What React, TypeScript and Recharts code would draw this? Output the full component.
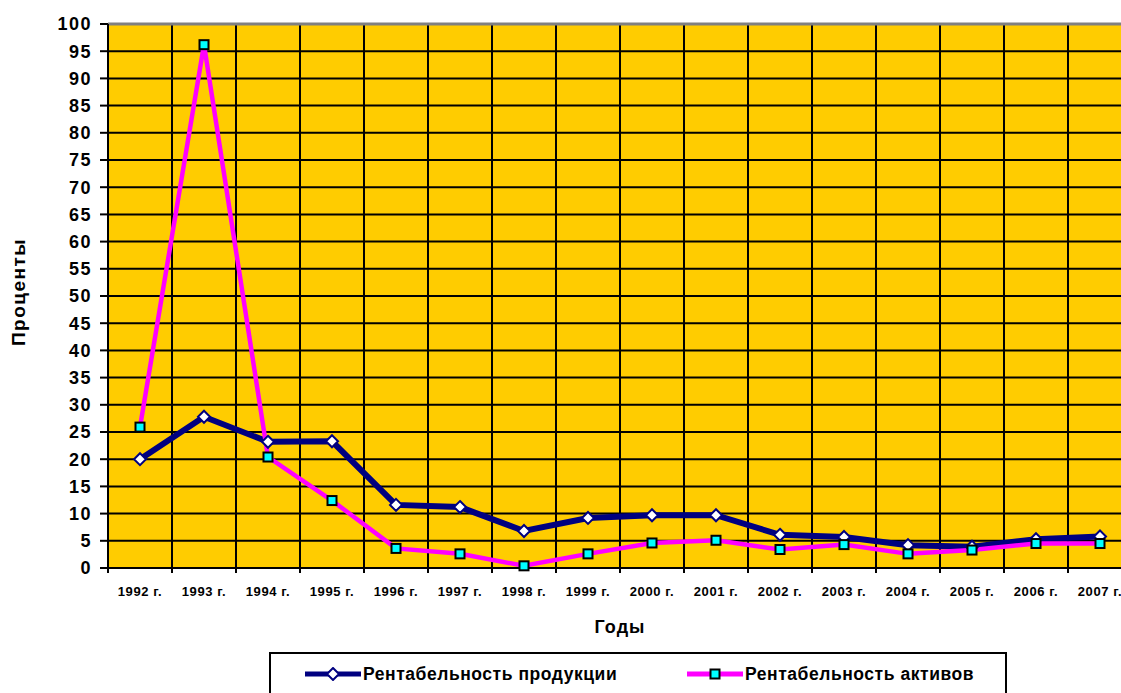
import { LineChart, Line, XAxis, YAxis, CartesianGrid, Legend, ReferenceLine } from "recharts";

const years = [
  "1992 г.", "1993 г.", "1994 г.", "1995 г.", "1996 г.", "1997 г.", "1998 г.", "1999 г.",
  "2000 г.", "2001 г.", "2002 г.", "2003 г.", "2004 г.", "2005 г.", "2006 г.", "2007 г.",
];
const productReturn = [20, 27.8, 23.2, 23.3, 11.6, 11.2, 6.8, 9.2, 9.7, 9.7, 6.1, 5.7, 4.2, 3.9, 5.3, 5.8];
const assetReturn = [25.9, 96.2, 20.4, 12.4, 3.6, 2.6, 0.4, 2.6, 4.6, 5.1, 3.4, 4.3, 2.6, 3.3, 4.5, 4.5];
const yTicks = [0, 5, 10, 15, 20, 25, 30, 35, 40, 45, 50, 55, 60, 65, 70, 75, 80, 85, 90, 95, 100];
// category boundaries, used for the vertical grid and the x tick marks
const bandEdges = Array.from({ length: years.length + 1 }, (_, i) => i);
const seriesOrder = ["product", "assets"];

const data = years.map((year, i) => ({
  year,
  slot: i + 0.5,
  product: productReturn[i],
  assets: assetReturn[i],
}));

const FONT = "Arial, 'Liberation Sans', sans-serif";

const Diamond = (props: any) => {
  const { cx, cy } = props;
  if (cx == null || cy == null) return null;
  const r = 6;
  return (
    <polygon
      points={`${cx},${cy - r} ${cx + r},${cy} ${cx},${cy + r} ${cx - r},${cy}`}
      fill="#ffffff"
      stroke="#000080"
      strokeWidth={2}
    />
  );
};

const Square = (props: any) => {
  const { cx, cy } = props;
  if (cx == null || cy == null) return null;
  return <rect x={cx - 4.5} y={cy - 4.5} width={9} height={9} fill="#00ffff" stroke="#000000" strokeWidth={2} />;
};

const LegendBox = ({ payload }: any) => {
  const items = [...(payload || [])].sort(
    (a: any, b: any) => seriesOrder.indexOf(a.dataKey) - seriesOrder.indexOf(b.dataKey)
  );
  return (
    <div style={{ display: "flex", alignItems: "center", height: "100%", paddingLeft: 34 }}>
      {items.map((entry: any, i: number) => (
        <div key={entry.dataKey} style={{ display: "flex", alignItems: "center", width: i === 0 ? 382 : "auto" }}>
          <svg width={56} height={14}>
            <line x1={0} y1={7} x2={56} y2={7} stroke={entry.color} strokeWidth={5} />
            {entry.dataKey === "product" ? (
              <polygon points="28,1 34,7 28,13 22,7" fill="#fff" stroke="#000080" strokeWidth={2} />
            ) : (
              <rect x={23.5} y={2.5} width={9} height={9} fill="#00ffff" stroke="#000" strokeWidth={2} />
            )}
          </svg>
          <span style={{ fontFamily: FONT, fontWeight: "bold", fontSize: 17.5, letterSpacing: 0.55, marginLeft: 2 }}>
            {entry.value}
          </span>
        </div>
      ))}
    </div>
  );
};

const NoLabel = () => <g />;

export default function App() {
  return (
    <div style={{ position: "absolute", left: 0, top: 0, width: 1121, height: 693, overflow: "hidden", background: "#fff" }}>
      <LineChart
        width={1140}
        height={720}
        data={data}
        margin={{ top: 24, right: 8, left: 0, bottom: 82 }}
      >
        <CartesianGrid xAxisId="a" stroke="#000" strokeWidth={2} fill="#ffcc00" fillOpacity={1} />
        <XAxis
          xAxisId="b"
          dataKey="year"
          scale="band"
          height={69}
          axisLine={false}
          tickLine={false}
          tickMargin={12}
          interval={0}
          tick={{ fill: "#000", fontSize: 13, fontWeight: "bold", fontFamily: FONT, letterSpacing: 0.6 }}
          label={{
            value: "Годы",
            position: "insideBottom",
            offset: 5,
            fill: "#000",
            fontSize: 18,
            fontWeight: "bold",
            fontFamily: FONT,
            letterSpacing: 1,
          }}
        />
        <XAxis
          xAxisId="a"
          dataKey="slot"
          type="number"
          domain={[0, years.length]}
          ticks={bandEdges}
          interval={0}
          allowDataOverflow
          tick={<NoLabel />}
          tickSize={5}
          height={1}
          axisLine={{ stroke: "#000", strokeWidth: 2 }}
          tickLine={{ stroke: "#000", strokeWidth: 2 }}
        />
        <YAxis
          width={108}
          domain={[0, 100]}
          ticks={yTicks}
          interval={0}
          tickSize={8}
          tickMargin={8}
          axisLine={{ stroke: "#000", strokeWidth: 2 }}
          tickLine={{ stroke: "#000", strokeWidth: 2 }}
          tick={{ fill: "#000", fontSize: 18, fontWeight: "bold", fontFamily: FONT, letterSpacing: 1.5 }}
          label={{
            content: ({ viewBox }: any) => (
              <text
                x={18}
                y={viewBox.y + viewBox.height / 2 - 4}
                transform={`rotate(-90 18 ${viewBox.y + viewBox.height / 2 - 4})`}
                textAnchor="middle"
                dominantBaseline="central"
                fontFamily={FONT}
                fontWeight="bold"
                fontSize={19}
                letterSpacing={1.5}
                fill="#000"
              >
                Проценты
              </text>
            ),
          }}
        />
        <ReferenceLine xAxisId="b" y={100} stroke="#808080" strokeWidth={3} />
        <Legend
          layout="horizontal"
          verticalAlign="middle"
          align="center"
          content={<LegendBox />}
          wrapperStyle={{
            left: 269,
            top: 652,
            width: 738,
            height: 44,
            border: "2px solid #000",
            boxSizing: "border-box",
            background: "#fff",
          }}
        />
        <Line
          xAxisId="b"
          name="Рентабельность продукции"
          dataKey="product"
          stroke="#000080"
          strokeWidth={6}
          dot={<Diamond />}
          activeDot={false}
          isAnimationActive={false}
        />
        <Line
          xAxisId="b"
          name="Рентабельность активов"
          dataKey="assets"
          stroke="#ff00ff"
          strokeWidth={4.5}
          dot={<Square />}
          activeDot={false}
          isAnimationActive={false}
        />
      </LineChart>
    </div>
  );
}
